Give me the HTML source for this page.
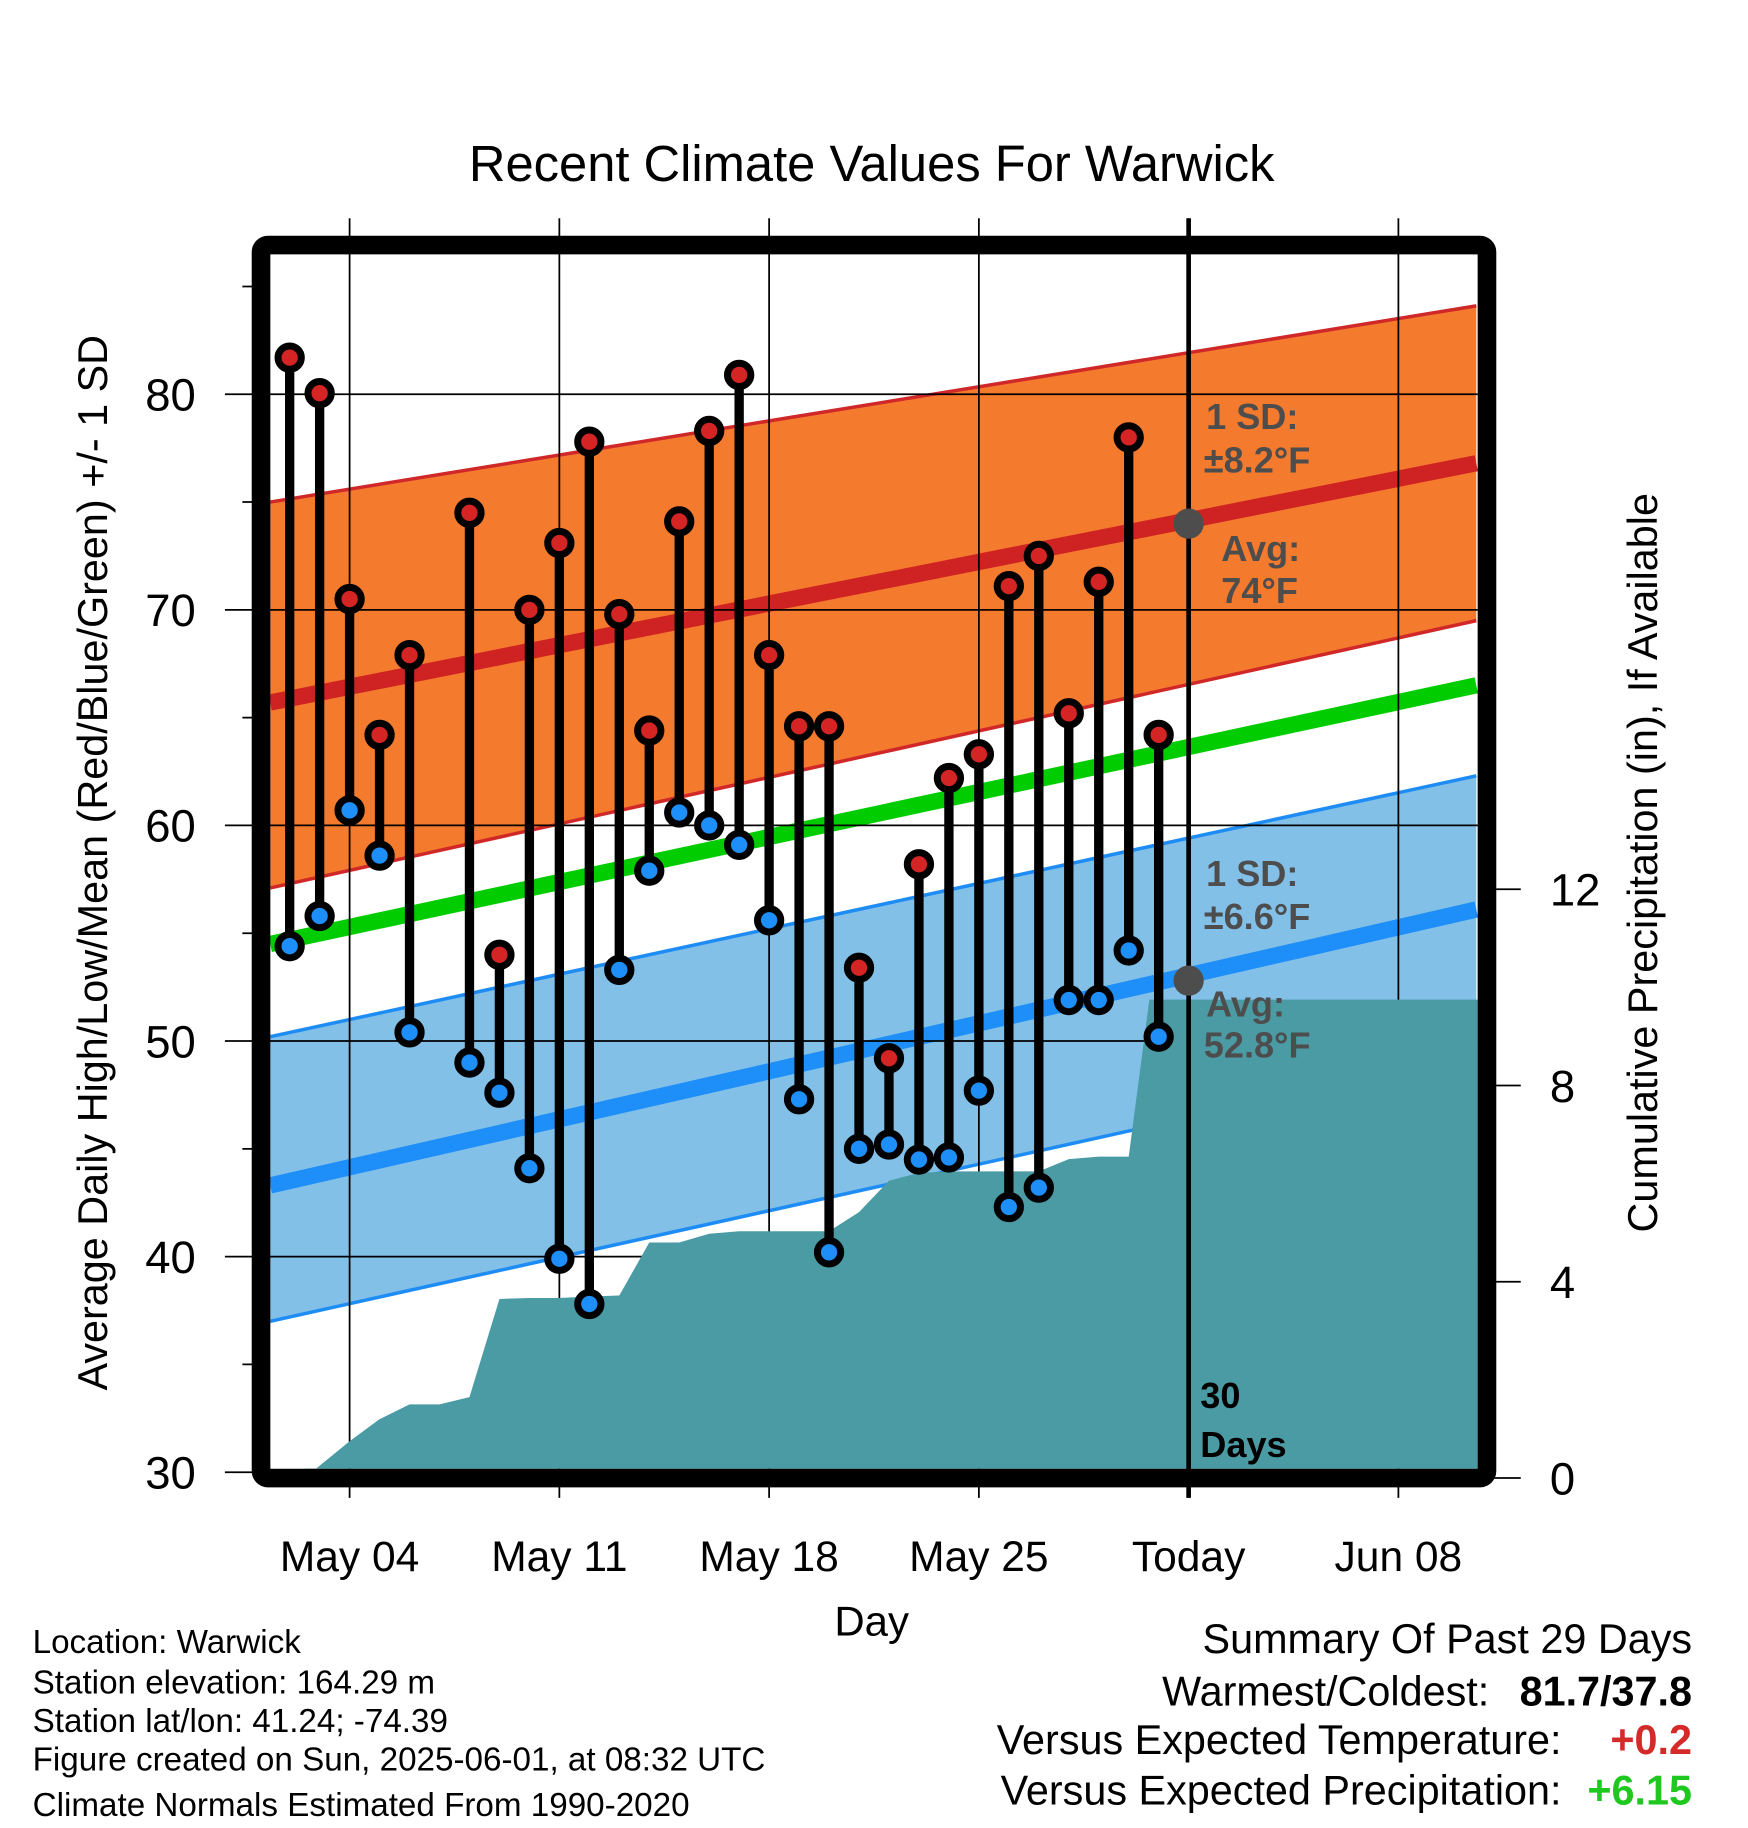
<!DOCTYPE html>
<html><head><meta charset="utf-8"><style>
html,body{margin:0;padding:0;background:#fff;}
svg{display:block;font-family:"Liberation Sans",Arial,sans-serif;}
</style></head><body>
<svg id="chart" width="1748" height="1828" viewBox="0 0 1500 1568" xmlns="http://www.w3.org/2000/svg">
<g id="bands"></g><g id="lines"></g><g id="grid"></g><g id="precip"></g><g id="stems"></g><g id="over"></g>
<text x="748" y="155" font-size="43.5" text-anchor="middle">Recent Climate Values For Warwick</text>
<text transform="translate(92,740) rotate(-90)" font-size="35.5" text-anchor="middle">Average Daily High/Low/Mean (Red/Blue/Green) +/- 1 SD</text>
<text transform="translate(1422,740) rotate(-90)" font-size="35.5" text-anchor="middle">Cumulative Precipitation (in), If Available</text>
<text x="748" y="1403" font-size="36" text-anchor="middle">Day</text>
<g font-size="28.5">
<text x="28" y="1418">Location: Warwick</text>
<text x="28" y="1453">Station elevation: 164.29 m</text>
<text x="28" y="1486">Station lat/lon: 41.24; -74.39</text>
<text x="28" y="1519">Figure created on Sun, 2025-06-01, at 08:32 UTC</text>
<text x="28" y="1558">Climate Normals Estimated From 1990-2020</text>
</g>
<g font-size="35.5" text-anchor="end">
<text x="1452" y="1418">Summary Of Past 29 Days</text>
<text x="1278" y="1463">Warmest/Coldest:</text>
<text x="1452" y="1463" font-weight="bold">81.7/37.8</text>
<text x="1340" y="1505">Versus Expected Temperature:</text>
<text x="1452" y="1505" font-weight="bold" fill="#d42a2a">+0.2</text>
<text x="1340" y="1548">Versus Expected Precipitation:</text>
<text x="1452" y="1548" font-weight="bold" fill="#1ec81e">+6.15</text>
</g>
</svg>
<script>
const days=[2,3,4,5,6,8,9,10,11,12,13,14,15,16,17,18,19,20,21,22,23,24,25,26,27,28,29,30,31];
const highs=[81.7,80.05,70.5,64.2,67.9,74.5,54.0,70.0,73.1,77.8,69.8,64.4,74.1,78.3,80.9,67.9,64.6,64.6,53.4,49.2,58.2,62.2,63.3,71.1,72.5,65.2,71.3,78.0,64.2];
const lows=[54.4,55.8,60.7,58.6,50.4,49.0,47.6,44.1,39.9,37.8,53.3,57.9,60.6,60.0,59.1,55.6,47.3,40.2,45.0,45.2,44.5,44.6,47.7,42.3,43.2,51.9,51.9,54.2,50.2];
const precipDays=[2,3,4,5,6,7,8,9,10,11,12,13,14,15,16,17,18,19,20,21,22,23,24,25,26,27,28,29,30,31];
const precipVals=[0,0.25,0.75,1.2,1.5,1.5,1.65,3.65,3.67,3.67,3.7,3.72,4.8,4.8,4.98,5.03,5.03,5.03,5.03,5.42,6.06,6.22,6.25,6.25,6.25,6.25,6.5,6.55,6.55,9.75];
const normEndDays=[1.35,41.6];
const highUpper=[75.0,84.1], highMean=[65.7,76.8], highLower=[57.1,69.5];
const lowUpper=[50.2,62.3], lowMean=[43.3,56.1], lowLower=[37.0,49.4];
const meanLine=[54.5,66.5];
const yTicks=[30,40,50,60,70,80];
const y2Ticks=[0,4,8,12];
const xTickDays=[4,11,18,25,32,39];
const xTickLabels=["May 04","May 11","May 18","May 25","Today","Jun 08"];
const todayDay=32, todayHigh=74, todayLow=52.8;

const NS="http://www.w3.org/2000/svg";
const L=232,R=1268,T=218,B=1260;
const xs=d=>300+(d-4)*25.714;
const ys=t=>1263-(t-30)*18.5;
const yp=p=>1268-p*42.1;
function mk(tag,attrs,parent){const e=document.createElementNS(NS,tag);for(const k in attrs)e.setAttribute(k,attrs[k]);parent.appendChild(e);return e;}
const bands=document.getElementById('bands'),lines=document.getElementById('lines'),grid=document.getElementById('grid'),precip=document.getElementById('precip'),stems=document.getElementById('stems'),over=document.getElementById('over');
const x0=xs(normEndDays[0]),x1=xs(normEndDays[1]);
function band(up,lo,fill,stroke,name){
  const p=mk('polygon',{points:`${x0},${ys(up[0])} ${x1},${ys(up[1])} ${x1},${ys(lo[1])} ${x0},${ys(lo[0])}`,fill:fill},bands);
  
  
  [up,lo].forEach(a=>{const l=mk('line',{x1:x0,y1:ys(a[0]),x2:x1,y2:ys(a[1]),stroke:stroke,'stroke-width':3},lines);
    
    });
}
band(highUpper,highLower,'#f47a2e','#d02828','high-sd-band');
band(lowUpper,lowLower,'#82c0e8','#1e8cf5','low-sd-band');
function nline(a,color,name){const l=mk('line',{x1:x0,y1:ys(a[0]),x2:x1,y2:ys(a[1]),stroke:color,'stroke-width':14},lines);
  
  }
nline(highMean,'#cf2323','normal-high-line');
nline(lowMean,'#1e8ff8','normal-low-line');
nline(meanLine,'#00cc00','normal-mean-line');
yTicks.forEach(t=>{const y=ys(t);
  const g=mk('line',{x1:193,y1:y,x2:R,y2:y,stroke:'#000','stroke-width':1.5},grid);
  
  
  const tx=mk('text',{x:168,y:y+14,'font-size':39,'text-anchor':'end'},grid);
  
  
  tx.textContent=t;});
[35,45,55,65,75,85].forEach(t=>{const m=mk('line',{x1:208,y1:ys(t),x2:228,y2:ys(t),stroke:'#000','stroke-width':1.5},grid);
  
  });
xTickDays.forEach((d,i)=>{const x=xs(d);
  const g=mk('line',{x1:x,y1:187,x2:x,y2:1285,stroke:'#000','stroke-width':1.5},grid);
  
  
  const tx=mk('text',{x:x,y:1348,'font-size':36.5,'text-anchor':'middle'},grid);
  
  
  tx.textContent=xTickLabels[i];});
y2Ticks.forEach(p=>{const y=yp(p);
  const m=mk('line',{x1:1280,y1:y,x2:1305,y2:y,stroke:'#000','stroke-width':1.5},grid);
  
  
  const tx=mk('text',{x:1330,y:y+14,'font-size':39},grid);
  
  
  tx.textContent=p;});
let pts=precipDays.map((d,i)=>`${xs(d)+ (i==0?13:0)},${yp(precipVals[i])}`);
const lastX=xs(precipDays[precipDays.length-1])-8;
pts[pts.length-1]=`${lastX},${yp(precipVals[precipVals.length-1])}`;
const pa=mk('polygon',{points:`${xs(precipDays[0])+13},${B} `+pts.join(' ')+` ${R},${yp(precipVals[precipVals.length-1])} ${R},${B}`,fill:'#4a9ba4'},precip);


days.forEach((d,i)=>{const x=xs(d);
  const s=mk('line',{x1:x,y1:ys(highs[i]),x2:x,y2:ys(lows[i]),stroke:'#000','stroke-width':8},stems);
  
  
  const h=mk('circle',{cx:x,cy:ys(highs[i]),r:10,fill:'#d42424',stroke:'#000','stroke-width':6},stems);
  
  
  const l=mk('circle',{cx:x,cy:ys(lows[i]),r:10,fill:'#1e8ff8',stroke:'#000','stroke-width':6},stems);
  
  });
const tx=xs(todayDay);
const tl=mk('line',{x1:tx,y1:187,x2:tx,y2:1285,stroke:'#000','stroke-width':4},over);


[todayHigh,todayLow].forEach(v=>{const c=mk('circle',{cx:tx,cy:ys(v),r:13,fill:'#4d4d4d'},over);
  
  });
const labels=[["1 SD:",1035,368],["±8.2°F",1033,405],["Avg:",1048,481],["74°F",1048,517],["1 SD:",1035,760],["±6.6°F",1033,797],["Avg:",1035,872],["52.8°F",1033,907]];
labels.forEach(a=>{const t=mk('text',{x:a[1],y:a[2],'font-size':31,'font-weight':'bold',fill:'#4d4d4d'},over);
  
  
  t.textContent=a[0];});
[["30",1030,1208],["Days",1030,1250]].forEach(a=>{const t=mk('text',{x:a[1],y:a[2],'font-size':31,'font-weight':'bold',fill:'#000'},over);
  
  
  t.textContent=a[0];});
const fr=mk('rect',{x:224,y:210,width:1052,height:1058,rx:6,fill:'none',stroke:'#000','stroke-width':16},over);


</script>
</body></html>
